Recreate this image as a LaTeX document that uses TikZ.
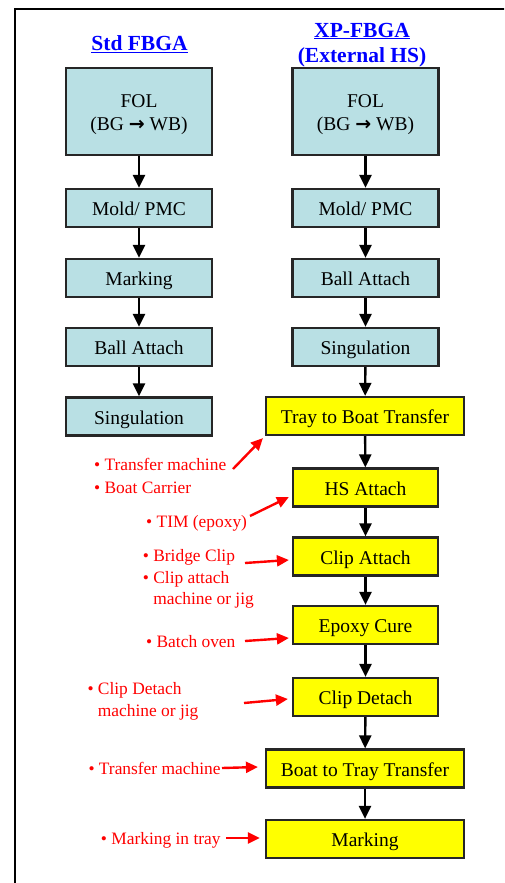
\documentclass[tikz,border=0pt]{standalone}
\usepackage{fontspec}
\setmainfont{Liberation Serif}
\newfontfamily\arrowfont{DejaVu Sans}
\usetikzlibrary{arrows.meta,calc}
\definecolor{stdfill}{RGB}{185,224,228}
\definecolor{hsyellow}{RGB}{255,255,0}
\definecolor{notered}{RGB}{255,0,0}
\definecolor{headblue}{RGB}{0,0,255}
\newcommand\redlist[1]{\begin{tabular}{@{}l@{\ }l@{}}#1\end{tabular}}
\newcommand\fatarrow{{\arrowfont\bfseries\fontsize{19}{19}\selectfont →}}
% a tall invisible rule on the first line lowers the two lines inside the box
\newcommand\folbody{\rule{0pt}{19.5pt}FOL\\(BG \fatarrow\ WB)}

\begin{document}
\begin{tikzpicture}[x=1pt,y=-1pt,
  stage/.style={draw=black!85, line width=2.2pt, minimum height=38pt, inner sep=0pt,
                align=center, font=\fontsize{19.5}{23}\selectfont},
  oneline/.style={text height=16pt, text depth=1pt},
  stdstage/.style={stage, fill=stdfill, minimum width=146pt},
  hsstage/.style={stage, oneline, fill=hsyellow, minimum width=145pt},
  widestage/.style={stage, oneline, fill=hsyellow, minimum width=198pt},
  flow/.style={-{Triangle[length=13pt,width=12pt]}, line width=2.4pt},
  note/.style={anchor=west, inner sep=0pt, text=notered,
               font=\fontsize{17.4}{21.5}\selectfont},
  notearrow/.style={-{Triangle[length=12pt,width=11pt]}, line width=2.4pt, draw=notered},
  header/.style={text=headblue, align=center,
                 font=\fontsize{21.5}{25.5}\selectfont\bfseries}]

\clip (0,0) rectangle (504,883);
\fill[white] (0,0) rectangle (504,883);
% outer frame (open to the right and bottom)
\draw[line width=2.6pt] (15,900) -- (15,9) -- (520,9);

% column headers
\node[header] (hstd) at (139.5,44.5) {\underline{Std FBGA}};
\node[header] (hxp) at (362,46) {\underline{XP-FBGA}\\\underline{(External HS)}};

% standard flow
\node[stdstage, minimum height=87pt] (sfol) at (139,111.5) {\folbody};
\node[stdstage, oneline] (smold) at (139,208) {Mold/ PMC};
\node[stdstage, oneline] (smark) at (139,278) {Marking};
\node[stdstage, oneline] (sball) at (139,347) {Ball Attach};
\node[stdstage, oneline] (ssing) at (139,416.5) {Singulation};

\draw[flow] (sfol) -- (smold);
\draw[flow] (smold) -- (smark);
\draw[flow] (smark) -- (sball);
\draw[flow] (sball) -- (ssing);

% external heat-sink flow
\node[stdstage, minimum height=87pt] (xfol) at (365.5,111.5) {\folbody};
\node[stdstage, oneline] (xmold) at (365.5,208) {Mold/ PMC};
\node[stdstage, oneline] (xball) at (365.5,278) {Ball Attach};
\node[stdstage, oneline] (xsing) at (365.5,347) {Singulation};
\node[widestage] (tray) at (365,416) {Tray to Boat Transfer};
\node[hsstage] (hs) at (365.5,487.5) {HS Attach};
\node[hsstage] (ca) at (365.5,556.5) {Clip Attach};
\node[hsstage] (ec) at (365.5,625) {Epoxy Cure};
\node[hsstage] (cd) at (365.5,697) {Clip Detach};
\node[widestage] (bt) at (365,768.5) {Boat to Tray Transfer};
\node[widestage] (mk) at (365,839) {Marking};

\draw[flow] (xfol) -- (xmold);
\draw[flow] (xmold) -- (xball);
\draw[flow] (xball) -- (xsing);
\draw[flow] (xsing) -- (tray);
\draw[flow] (tray) -- (hs);
\draw[flow] (hs) -- (ca);
\draw[flow] (ca) -- (ec);
\draw[flow] (ec) -- (cd);
\draw[flow] (cd) -- (bt);
\draw[flow] (bt) -- (mk);

% equipment / material notes
\node[note] (n1) at (94,477.5) {\redlist{•&Transfer machine\\[1.5pt]•&Boat Carrier}};
\node[note] (n2) at (146,523.5) {\redlist{•&TIM (epoxy)}};
\node[note] (n3) at (142.7,579) {\redlist{•&Bridge Clip\\•&Clip attach\\&machine or jig}};
\node[note] (n4) at (146,643) {\redlist{•&Batch oven}};
\node[note] (n5) at (87.3,701) {\redlist{•&Clip Detach\\&machine or jig}};
\node[note] (n6) at (88.3,770) {\redlist{•&Transfer machine}};
\node[note] (n7) at (100.7,840) {\redlist{•&Marking in tray}};

\coordinate (t1) at (233,469);
\coordinate (t2) at (250,516);
\coordinate (t3) at (245,563);
\coordinate (t4) at (245,641);
\coordinate (t5) at (244,703);
\coordinate (t6) at (222,768);
\coordinate (t7) at (226,838);

\draw[notearrow] (t1) -- ($(tray.south west)+(-2,2)$);
\draw[notearrow] (t2) -- ($(hs.west)+(-3,9.5)$);
\draw[notearrow] (t3) -- ($(ca.west)+(-3,3.5)$);
\draw[notearrow] (t4) -- ($(ec.west)+(-3,13)$);
\draw[notearrow] (t5) -- ($(cd.west)+(-4,2)$);
\draw[notearrow] (t6) -- ($(bt.west)+(-7,-1.5)$);
\draw[notearrow] (t7) -- ($(mk.west)+(-5,-1)$);
\end{tikzpicture}
\end{document}
